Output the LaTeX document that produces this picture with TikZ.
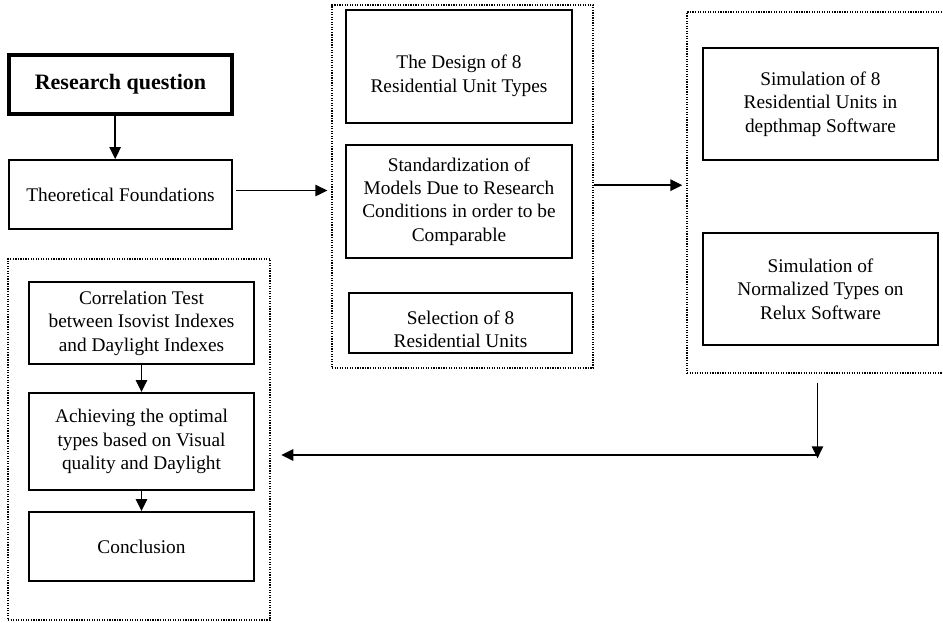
\documentclass[tikz,border=0pt]{standalone}
\usepackage{fontspec}
\setmainfont{Liberation Serif}
\usetikzlibrary{positioning,arrows.meta}

\tikzset{
  box/.style={draw, line width=1.4pt, align=center, inner sep=2pt},
  grp/.style={draw, densely dotted, line width=0.9pt},
  arr/.style={-{Triangle[length=9pt,width=8.5pt]}, line width=1.4pt}
}

\begin{document}
\begin{tikzpicture}[x=0.75pt,y=-0.75pt,font=\fontsize{14.5}{17.6}\selectfont]
\useasboundingbox (0,0) rectangle (943,622);
% dotted groups
\node[grp, minimum width=195.8pt, minimum height=272.3pt] (mid) at (462.5,186.5) {};
\node[grp, minimum width=195.8pt, minimum height=270.8pt] (rgt) at (817.5,192.5) {};
\node[grp, minimum width=196.5pt, minimum height=270.8pt] (lft) at (139,439.5) {};
% left column
\node[box, line width=2.4pt, minimum width=167.3pt, minimum height=44.3pt,
  font=\fontsize{16.5}{19}\selectfont\bfseries] (rq) at (120.5,84.5) {Research question};
\node[box, minimum width=167.3pt, minimum height=51.8pt] (tf) at (120.5,194.5) {Theoretical Foundations};
% middle group
\node[box, minimum width=169.5pt, minimum height=84.8pt] (design) at (459,66.5)
  {\rule{0pt}{24pt}The Design of 8\\Residential Unit Types};
\node[box, minimum width=169.5pt, minimum height=84.8pt] (stand) at (459,201.5)
  {Standardization of\\Models Due to Research\\Conditions in order to be\\Comparable};
\node[box, minimum width=167.3pt, minimum height=45pt] (select) at (460.5,323)
  {\rule{0pt}{20pt}Selection of 8\\Residential Units};
% right group
\node[box, minimum width=176.3pt, minimum height=84pt] (depth) at (820.5,104)
  {Simulation of 8\\Residential Units in\\depthmap Software};
\node[box, minimum width=176.3pt, minimum height=84pt] (relux) at (820.5,289)
  {Simulation of\\Normalized Types on\\Relux Software};
% bottom left group
\node[box, minimum width=168.8pt, minimum height=61.5pt] (corr) at (141.5,323)
  {Correlation Test\\between Isovist Indexes\\and Daylight Indexes};
\node[box, minimum width=168.8pt, minimum height=72.8pt] (optim) at (141.5,441.5)
  {Achieving the optimal\\types based on Visual\\quality and Daylight};
\node[box, minimum width=168.8pt, minimum height=51.8pt] (concl) at (141.5,546.5) {Conclusion};
\coordinate (turn) at (817.5,455);
% arrows
\draw[arr] ([xshift=-4pt]rq.south) -- ([xshift=-4pt]tf.north);
\draw[arr] ([xshift=2pt,yshift=3pt]tf.east) -- ([xshift=-3pt,yshift=3pt]tf.east -| mid.west);
\draw[arr] ([yshift=1pt]mid.east) -- ([xshift=-3pt,yshift=1pt]mid.east -| rgt.west);
\draw[arr] ([yshift=-7pt]rgt.south) -- ([yshift=-2.5pt]turn);
\draw[arr] (turn) -- ([xshift=8pt]turn -| lft.east);
\draw[arr] (corr) -- (optim);
\draw[arr] (optim) -- (concl);
\end{tikzpicture}
\end{document}
